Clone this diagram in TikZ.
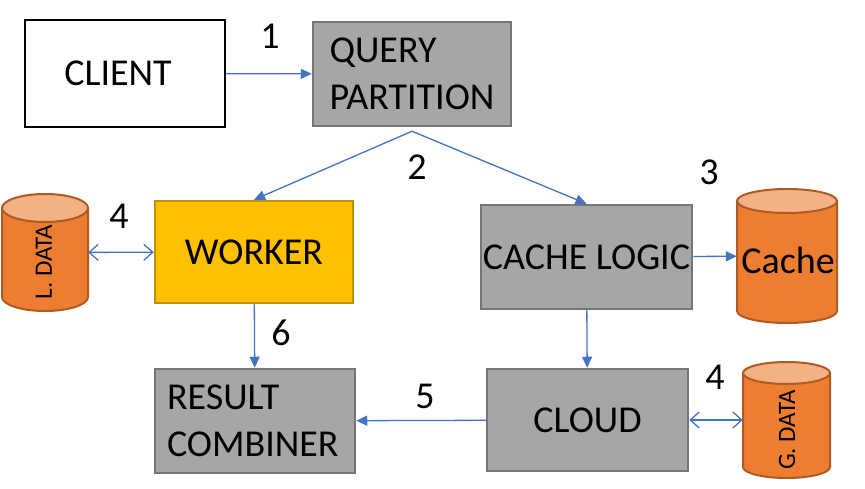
\documentclass[tikz,border=0pt]{standalone}
\usepackage{fontspec}
\setmainfont{Carlito}
\usetikzlibrary{arrows.meta}

\definecolor{boxgray}{HTML}{A6A6A6}
\definecolor{boxgrayline}{HTML}{767676}
\definecolor{workfill}{HTML}{FFC000}
\definecolor{workline}{HTML}{BF9000}
\definecolor{dbbody}{HTML}{ED7D31}
\definecolor{dbend}{HTML}{F4B183}
\definecolor{dbline}{HTML}{AE5A21}
\definecolor{flow}{HTML}{4472C4}

\tikzset{
  big/.style={font=\fontsize{38}{45}\selectfont},
  small/.style={font=\fontsize{25}{30}\selectfont},
  box/.style={draw, line width=2.5pt, inner sep=0pt, big},
  greybox/.style={box, fill=boxgray, draw=boxgrayline},
  dbnode/.style={draw=none, inner sep=0pt},
  dbshape/.style={draw=dbline, line width=2pt, fill=dbbody},
  dbtop/.style={draw=dbline, line width=2pt, fill=dbend},
  flowline/.style={draw=flow, line width=1.3pt, -{Triangle[length=11pt,width=10pt]}},
  twoway/.style={draw=flow, line width=1.3pt, {Straight Barb[length=9pt,width=16pt]}-{Straight Barb[length=9pt,width=16pt]}},
  step label/.style={big}
}

\begin{document}
\begin{tikzpicture}[x=1pt, y=-1pt]
\useasboundingbox (0,0) rectangle (865,489);

% boxes
\node[box, line width=1.5pt, fill=white, minimum width=200pt, minimum height=107pt] (client) at (125,73.5) {\hspace*{-14pt}CLIENT};
\node[greybox, minimum width=198pt, minimum height=104pt, align=left] (query) at (412,74) {QUERY\\[2pt]PARTITION};
\node[box, fill=workfill, draw=workline, minimum width=198pt, minimum height=102pt] (worker) at (254,252) {WORKER};
\node[greybox, minimum width=211pt, minimum height=104pt] (cachelogic) at (586.5,257) {CACHE LOGIC};
\node[greybox, minimum width=200pt, minimum height=104pt, align=left, text width=176pt] (result) at (255,421) {RESULT\\[2pt]COMBINER};
\node[greybox, minimum width=201pt, minimum height=102pt] (cloud) at (587.5,420) {CLOUD};

% data stores (cylinders drawn by hand, node gives the anchors)
\node[dbnode, minimum width=86pt, minimum height=117pt] (ldata) at (45,252.5) {};
\filldraw[dbshape] (2,208) -- (2,297) arc[start angle=180, end angle=0, x radius=43, y radius=14] -- (88,208) -- cycle;
\filldraw[dbtop] (45,208) ellipse [x radius=43, y radius=14];
\node[small, rotate=90] (ldatatext) at (44,262) {L. DATA};

\node[dbnode, minimum width=100pt, minimum height=134pt] (cache) at (787,256) {};
\filldraw[dbshape] (737,201) -- (737,311) arc[start angle=180, end angle=0, x radius=50, y radius=12] -- (837,201) -- cycle;
\filldraw[dbtop] (787,201) ellipse [x radius=50, y radius=12];
\node[big] (cachetext) at (788,260) {Cache};

\node[dbnode, minimum width=87pt, minimum height=116pt] (gdata) at (786.5,420) {};
\filldraw[dbshape] (743,373) -- (743,467) arc[start angle=180, end angle=0, x radius=43.5, y radius=11] -- (830,373) -- cycle;
\filldraw[dbtop] (786.5,373) ellipse [x radius=43.5, y radius=11];
\node[small, rotate=90] (gdatatext) at (787,430) {G. DATA};

% step numbers
\node[step label] (n1) at (270,36) {1};
\node[step label] (n2) at (417,167) {2};
\node[step label] (n3) at (709,172) {3};
\node[step label] (n4a) at (119,216) {4};
\node[step label] (n4b) at (715,377) {4};
\node[step label] (n6) at (281,333) {6};
\node[step label] (n5) at (425,396) {5};

% connectors
\coordinate (split) at ([yshift=-4pt]query.south);
\draw[flowline] (client) -- (query);
\draw[flowline] (split) -- (worker.north);
\draw[flowline] (split) -- (cachelogic.north);
\draw[twoway] (ldata) -- (worker);
\draw[flowline] (cachelogic) -- (cache);
\draw[flowline] (worker) -- (result);
\draw[flowline] (cachelogic) -- (cloud);
\draw[flowline] (cloud) -- (result);
\draw[twoway] (cloud) -- (gdata);

\end{tikzpicture}
\end{document}
